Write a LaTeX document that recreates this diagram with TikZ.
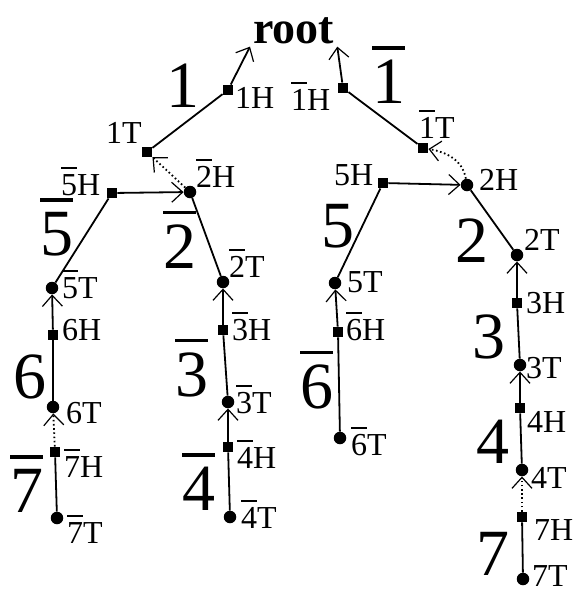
\documentclass[tikz,border=0pt]{standalone}
\usepackage{fontspec}
\setmainfont{Liberation Serif}
\usetikzlibrary{arrows.meta}
\newcommand\ovl[1]{\vbox{\hrule height 0.055em\kern0.15em\hbox{#1}}}
\begin{document}
\begin{tikzpicture}[x=1pt,y=1pt,
 hnode/.style={rectangle,fill=black,minimum size=10.5pt,inner sep=0pt},
 tnode/.style={circle,fill=black,minimum size=12.5pt,inner sep=0pt},
 lbl/.style={anchor=base west,inner sep=0pt,font=\fontsize{32}{32}\selectfont},
 big/.style={anchor=base west,inner sep=0pt,font=\fontsize{66}{66}\selectfont},
 seg/.style={line width=1.8pt},
 arr/.style={line width=1.8pt,-{Straight Barb[length=11pt,width=20pt,line width=1.2pt]}},
 dotarr/.style={arr,dash pattern=on 1.6pt off 2.6pt}]
\path[use as bounding box,fill=white] (0,0) rectangle (575,-592);

\node[anchor=base west,inner sep=3pt,font=\fontsize{46}{46}\selectfont\bfseries] (root) at (250,-43) {root};

% H / T nodes
\node[hnode] (n1H) at (228,-90) {};
\node[hnode] (n1T) at (147,-152) {};
\node[hnode] (b1H) at (343,-88) {};
\node[hnode] (b1T) at (423,-148) {};
\node[hnode] (b5H) at (112,-193) {};
\node[tnode] (b2H) at (190,-192) {};
\node[hnode] (n5H) at (383,-183) {};
\node[tnode] (n2H) at (467,-185) {};
\node[tnode] (b5T) at (52,-288) {};
\node[tnode] (b2T) at (223,-282) {};
\node[tnode] (n5T) at (335,-283) {};
\node[tnode] (n2T) at (517,-255) {};
\node[hnode] (n6H) at (53,-335) {};
\node[tnode] (n6T) at (53,-407) {};
\node[hnode] (b7H) at (55,-452) {};
\node[tnode] (b7T) at (57,-518) {};
\node[hnode] (b3H) at (223,-330) {};
\node[tnode] (b3T) at (228,-402) {};
\node[hnode] (b4H) at (228,-447) {};
\node[tnode] (b4T) at (230,-517) {};
\node[hnode] (b6H) at (338,-332) {};
\node[tnode] (b6T) at (340,-438) {};
\node[hnode] (n3H) at (517,-303) {};
\node[tnode] (n3T) at (520,-365) {};
\node[hnode] (n4H) at (520,-408) {};
\node[tnode] (n4T) at (522,-470) {};
\node[hnode] (n7H) at (522,-517) {};
\node[tnode] (n7T) at (523,-579) {};

% small labels
\node[lbl] (l1H) at (235,-108) {1H};
\node[lbl] (l1T) at (106,-143) {1T};
\node[lbl] (lb5H) at (61,-195) {\ovl{5}H};
\node[lbl] (lb2H) at (196,-187) {\ovl{2}H};
\node[lbl] (lb1H) at (291,-110) {\ovl{1}H};
\node[lbl] (lb1T) at (419,-138) {\ovl{1}T};
\node[lbl] (l5H) at (334,-185) {5H};
\node[lbl] (l2H) at (479,-190) {2H};
\node[lbl] (lb5T) at (62,-298) {\ovl{5}T};
\node[lbl] (lb2T) at (229,-277) {\ovl{2}T};
\node[lbl] (l5T) at (347,-292) {5T};
\node[lbl] (l2T) at (524,-250) {2T};
\node[lbl] (l6H) at (62,-340) {6H};
\node[lbl] (lb3H) at (232,-340) {\ovl{3}H};
\node[lbl] (lb6H) at (346,-340) {\ovl{6}H};
\node[lbl] (l3H) at (526,-313) {3H};
\node[lbl] (l3T) at (526,-378) {3T};
\node[lbl] (l6T) at (66,-423) {6T};
\node[lbl] (lb3T) at (236,-413) {\ovl{3}T};
\node[lbl] (lb7H) at (64,-477) {\ovl{7}H};
\node[lbl] (lb4H) at (237,-468) {\ovl{4}H};
\node[lbl] (lb6T) at (351,-455) {\ovl{6}T};
\node[lbl] (l4H) at (527,-432) {4H};
\node[lbl] (l4T) at (531,-488) {4T};
\node[lbl] (lb7T) at (67,-543) {\ovl{7}T};
\node[lbl] (lb4T) at (241,-528) {\ovl{4}T};
\node[lbl] (l7H) at (534,-540) {7H};
\node[lbl] (l7T) at (532,-586) {7T};

% big edge labels
\node[big] (k1) at (166,-107) {1};
\node[big] (kb1) at (372,-103) {\ovl{1}};
\node[big] (kb5) at (40,-255) {\ovl{5}};
\node[big] (kb2) at (163,-268) {\ovl{2}};
\node[big] (k5) at (321,-247) {5};
\node[big] (k2) at (455,-262) {2};
\node[big] (k6) at (13,-398) {6};
\node[big] (kb3) at (175,-396) {\ovl{3}};
\node[big] (kb6) at (300,-408) {\ovl{6}};
\node[big] (k3) at (472,-358) {3};
\node[big] (kb7) at (10,-512) {\ovl{7}};
\node[big] (kb4) at (182,-510) {\ovl{4}};
\node[big] (k4) at (476,-463) {4};
\node[big] (k7) at (476,-575) {7};

% connectors
\draw[seg] (n1T) -- (n1H);
\draw[arr] (n1H) -- (root.south west);
\draw[seg] (b1H) -- (b1T);
\draw[arr] (b1H) -- (root.south east);
\draw[dotarr] (b2H) -- (n1T);
\draw[dotarr] (n2H) to[out=100,in=-10] (b1T);
\draw[arr] (b5H) -- (b2H);
\draw[arr] (n5H) -- (n2H);
\draw[seg] (b5H) -- (b5T);
\draw[seg] (b2H) -- (b2T);
\draw[seg] (n5H) -- (n5T);
\draw[seg] (n2H) -- (n2T);
\draw[arr] (n6H) -- (b5T);
\draw[seg] (n6H) -- (n6T);
\draw[dotarr] (b7H) -- (n6T);
\draw[seg] (b7H) -- (b7T);
\draw[arr] (b3H) -- (b2T);
\draw[seg] (b3H) -- (b3T);
\draw[arr] (b4H) -- (b3T);
\draw[seg] (b4H) -- (b4T);
\draw[arr] (b6H) -- (n5T);
\draw[seg] (b6H) -- (b6T);
\draw[arr] (n3H) -- (n2T);
\draw[seg] (n3H) -- (n3T);
\draw[arr] (n4H) -- (n3T);
\draw[seg] (n4H) -- (n4T);
\draw[dotarr] (n7H) -- (n4T);
\draw[seg] (n7H) -- (n7T);
\end{tikzpicture}
\end{document}
